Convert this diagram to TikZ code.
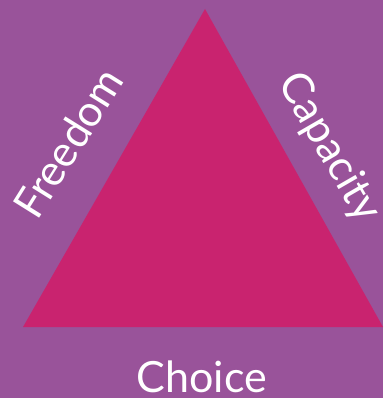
\documentclass[tikz,border=0pt]{standalone}
\usepackage{fontspec}
\setmainfont{Lato}
\definecolor{bgpurple}{HTML}{99539A}
\definecolor{trimagenta}{HTML}{C9236F}
\tikzset{
  label text/.style={text=white, font=\fontsize{43}{45}\selectfont, inner sep=0pt},
}
\begin{document}
\begin{tikzpicture}[x=1pt,y=-1pt]
  % background
  \fill[bgpurple] (0,0) rectangle (383,398);
  \useasboundingbox (0,0) rectangle (383,398);
  % triangle
  \coordinate (apex) at (205,9);
  \coordinate (bl) at (23,327);
  \coordinate (br) at (383,327);
  \fill[trimagenta] (apex) -- (bl) -- (br) -- cycle;
  % side labels
  \node[label text, rotate=58] (freedom) at (68,143) {Freedom};
  \node[label text, rotate=-60] (capacity) at (329,148) {Capacity};
  \node[label text] (choice) at (202,377) {Choice};
\end{tikzpicture}
\end{document}
